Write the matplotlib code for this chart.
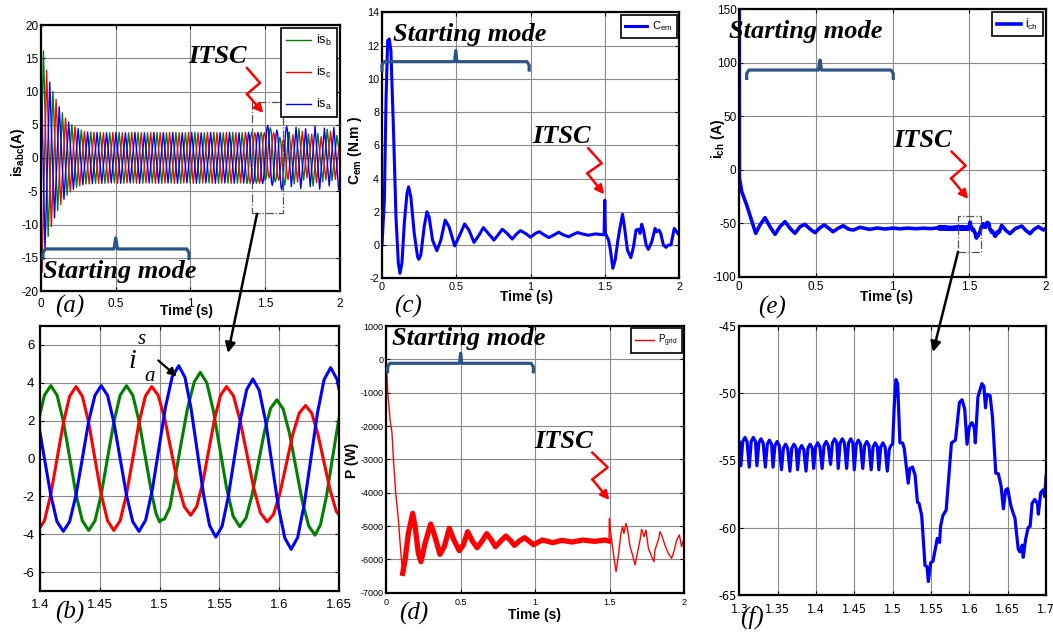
import numpy as np
import matplotlib
matplotlib.use("Agg")
import matplotlib.pyplot as plt
from matplotlib.patches import Rectangle, FancyArrowPatch

# ============================ DATA ============================
# stator currents (time s, current A) - extrema in overview, denser points in the 1.37-1.66 zoom
isb_pts = [  # green
    (0.0, -2.0), (0.0164, 16.1), (0.0481, -11.8), (0.0797, 10.0), (0.1114, -7.9), (0.1430, 6.8),
    (0.1747, -5.6), (0.2063, 5.0), (0.2380, -4.4), (0.2696, 4.2), (0.3013, -3.9), (0.3329, 3.9),
    (0.3646, -3.8), (0.3962, 3.85), (0.4279, -3.8), (0.4595, 3.8), (0.4912, -3.75), (0.5228, 3.85),
    (0.5545, -3.8), (0.5861, 3.8), (0.6178, -3.75), (0.6494, 3.85), (0.6811, -3.8), (0.7127, 3.8),
    (0.7444, -3.75), (0.7760, 3.85), (0.8077, -3.8), (0.8393, 3.8), (0.8710, -3.75), (0.9026, 3.85),
    (0.9343, -3.8), (0.9659, 3.8), (0.9976, -3.75), (1.0292, 3.85), (1.0609, -3.8), (1.0925, 3.8),
    (1.1242, -3.75), (1.1558, 3.85), (1.1875, -3.8), (1.2191, 3.8), (1.2508, -3.75), (1.2824, 3.85),
    (1.3141, -3.8), (1.3457, 3.8),
    (1.3774, -3.80), (1.3827, -3.29), (1.3879, -1.89), (1.3932, 0.03), (1.3985, 1.94), (1.4037, 3.34),
    (1.4090, 3.85), (1.4143, 3.34), (1.4196, 1.94), (1.4249, 0.03), (1.4301, -1.89), (1.4354, -3.29),
    (1.4407, -3.80), (1.4460, -3.29), (1.4512, -1.89), (1.4565, 0.03), (1.4618, 1.94), (1.4670, 3.34),
    (1.4723, 3.85), (1.4776, 3.34), (1.4829, 1.94), (1.4882, 0.03), (1.4935, -1.89), (1.4970, -2.90),
    (1.5000, -3.35), (1.5015, -3.25), (1.5040, -3.20), (1.5085, -2.60), (1.5130, -1.00), (1.5180, 0.80),
    (1.5235, 2.70), (1.5290, 4.05), (1.5340, 4.55), (1.5395, 4.00), (1.5450, 2.51), (1.5505, 0.48),
    (1.5560, -1.56), (1.5615, -3.05), (1.5670, -3.60), (1.5722, -3.15), (1.5773, -1.93), (1.5825, -0.25),
    (1.5877, 1.43), (1.5928, 2.65), (1.5980, 3.10), (1.6033, 2.62), (1.6087, 1.31), (1.6140, -0.48),
    (1.6193, -2.26), (1.6247, -3.57), (1.6300, -4.05), (1.6345, -3.50), (1.6395, -2.00), (1.6445, 0.00),
    (1.6495, 1.95), (1.6545, 3.35), (1.6600, 3.90),
    (1.694, -3.9), (1.725, 4.4), (1.757, -3.3), (1.789, 3.6), (1.820, -4.2), (1.852, 3.7),
    (1.884, -3.6), (1.915, 4.3), (1.947, -3.4), (1.979, 3.4), (2.0, 0.0)]

isc_pts = [  # red
    (0.0, -14.0), (0.0058, -17.2), (0.0375, 13.2), (0.0691, -10.3), (0.1008, 8.8), (0.1324, -7.0),
    (0.1641, 6.0), (0.1957, -5.1), (0.2274, 4.7), (0.2590, -4.2), (0.2907, 4.0), (0.3223, -3.9),
    (0.3540, 3.85), (0.3856, -3.8), (0.4173, 3.8), (0.4489, -3.75), (0.4806, 3.85), (0.5122, -3.8),
    (0.5439, 3.8), (0.5755, -3.75), (0.6072, 3.85), (0.6388, -3.8), (0.6705, 3.8), (0.7021, -3.75),
    (0.7338, 3.85), (0.7654, -3.8), (0.7971, 3.8), (0.8287, -3.75), (0.8604, 3.85), (0.8920, -3.8),
    (0.9237, 3.8), (0.9553, -3.75), (0.9870, 3.85), (1.0186, -3.8), (1.0503, 3.8), (1.0819, -3.75),
    (1.1136, 3.85), (1.1452, -3.8), (1.1769, 3.8), (1.2085, -3.75), (1.2402, 3.85), (1.2718, -3.8),
    (1.3035, 3.8), (1.3351, -3.75),
    (1.3668, 3.8), (1.3721, 3.29), (1.3773, 1.9), (1.3826, 0.0), (1.3879, -1.9), (1.3931, -3.29),
    (1.3984, -3.8), (1.4037, -3.29), (1.4090, -1.9), (1.4143, 0.0), (1.4196, 1.9), (1.4248, 3.29),
    (1.4301, 3.8), (1.4354, 3.29), (1.4407, 1.9), (1.4459, 0.0), (1.4512, -1.9), (1.4565, -3.29),
    (1.4617, -3.8), (1.4670, -3.29), (1.4723, -1.9), (1.4776, 0.0), (1.4828, 1.9), (1.4881, 3.29),
    (1.4934, 3.8), (1.4988, 3.34), (1.5043, 2.1), (1.5097, 0.4), (1.5151, -1.3), (1.5206, -2.54),
    (1.5260, -3.0), (1.5310, -2.54), (1.5360, -1.3), (1.5410, 0.4), (1.5460, 2.1), (1.5510, 3.34),
    (1.5560, 3.8), (1.5617, 3.32), (1.5673, 2.01), (1.5730, 0.23), (1.5787, -1.56), (1.5843, -2.87),
    (1.5900, -3.35), (1.5953, -2.94), (1.6007, -1.81), (1.6060, -0.28), (1.6113, 1.26), (1.6167, 2.39),
    (1.6220, 2.8), (1.6272, 2.4), (1.6323, 1.3), (1.6375, -0.2), (1.6427, -1.7), (1.6478, -2.8),
    (1.6530, -3.2),
    (1.685, 3.5), (1.716, -3.6), (1.748, 4.0), (1.779, -3.0), (1.811, 3.6), (1.843, -3.7),
    (1.874, 3.2), (1.906, -3.3), (1.937, 4.0), (1.969, -3.2), (2.0, 3.0)]

isa_pts = [  # blue
    (0.0, 14.5), (0.0269, -13.8), (0.0586, 11.4), (0.0902, -9.0), (0.1219, 7.7), (0.1535, -6.2),
    (0.1852, 5.4), (0.2168, -4.7), (0.2485, 4.4), (0.2801, -4.0), (0.3118, 3.9), (0.3434, -3.85),
    (0.3751, 3.85), (0.4067, -3.8), (0.4384, 3.8), (0.4700, -3.75), (0.5017, 3.85), (0.5333, -3.8),
    (0.5650, 3.8), (0.5966, -3.75), (0.6283, 3.85), (0.6599, -3.8), (0.6916, 3.8), (0.7232, -3.75),
    (0.7549, 3.85), (0.7865, -3.8), (0.8182, 3.8), (0.8498, -3.75), (0.8815, 3.85), (0.9131, -3.8),
    (0.9448, 3.8), (0.9764, -3.75), (1.0081, 3.85), (1.0397, -3.8), (1.0714, 3.8), (1.1030, -3.75),
    (1.1347, 3.85), (1.1663, -3.8), (1.1980, 3.8), (1.2296, -3.75), (1.2613, 3.85), (1.2929, -3.8),
    (1.3246, 3.8), (1.3562, -3.75),
    (1.3879, 3.85), (1.3932, 3.33), (1.3985, 1.93), (1.4037, 0.0), (1.4090, -1.93), (1.4142, -3.33),
    (1.4195, -3.85), (1.4248, -3.33), (1.4301, -1.93), (1.4354, 0.0), (1.4406, 1.93), (1.4459, 3.33),
    (1.4512, 3.85), (1.4565, 3.33), (1.4617, 1.93), (1.4670, 0.0), (1.4723, -1.93), (1.4775, -3.33),
    (1.4828, -3.85), (1.4883, -3.26), (1.4939, -1.66), (1.4994, 0.53), (1.5049, 2.71), (1.5105, 4.31),
    (1.5160, 4.9), (1.5212, 4.29), (1.5263, 2.64), (1.5315, 0.38), (1.5367, -1.89), (1.5418, -3.54),
    (1.5470, -4.15), (1.5522, -3.59), (1.5573, -2.06), (1.5625, 0.03), (1.5677, 2.11), (1.5728, 3.64),
    (1.5780, 4.2), (1.5833, 3.6), (1.5887, 1.95), (1.5940, -0.3), (1.5993, -2.55), (1.6047, -4.2),
    (1.6100, -4.8), (1.6155, -4.16), (1.6210, -2.4), (1.6265, 0.0), (1.6320, 2.4), (1.6375, 4.16),
    (1.6430, 4.8), (1.6483, 4.19), (1.6537, 2.53), (1.6590, 0.25),
    (1.675, -4.3), (1.706, 4.6), (1.738, -4.6), (1.770, 4.4), (1.801, -4.3), (1.833, 4.8),
    (1.864, -4.7), (1.896, 4.5), (1.928, -4.2), (1.959, 4.6), (1.991, -4.8), (2.0, -4.0)]

# electromagnetic torque (time s, N.m)
cem_pts = [
    (0.0, 0.0), (0.016, 2.7), (0.027, 8.7), (0.038, 12.3), (0.049, 12.4), (0.060, 11.7), (0.078, 6.7),
    (0.094, 1.7), (0.110, -1.1), (0.121, -1.7), (0.134, -1.1), (0.150, 1.3), (0.168, 3.1), (0.179, 3.5),
    (0.194, 2.9), (0.217, 0.7), (0.239, -0.7), (0.248, -0.86), (0.261, -0.6), (0.284, 1.1), (0.302, 2.0),
    (0.317, 1.7), (0.340, 0.3), (0.369, -0.34), (0.396, 0.3), (0.425, 1.5), (0.451, 1.1), (0.489, -0.05),
    (0.518, 0.5), (0.556, 1.27), (0.585, 0.9), (0.619, 0.16), (0.653, 0.6), (0.682, 1.05), (0.715, 0.7),
    (0.753, 0.3), (0.780, 0.6), (0.809, 0.95), (0.842, 0.7), (0.876, 0.36), (0.909, 0.7), (0.932, 0.87),
    (0.965, 0.7), (0.999, 0.47), (1.032, 0.7), (1.059, 0.8), (1.093, 0.6), (1.122, 0.45), (1.155, 0.6),
    (1.189, 0.77), (1.222, 0.6), (1.256, 0.5), (1.289, 0.65), (1.316, 0.75), (1.356, 0.65), (1.390, 0.59),
    (1.435, 0.67), (1.479, 0.63), (1.494, 0.62), (1.4985, 2.7), (1.503, 0.7), (1.524, 0.3), (1.535, -0.2),
    (1.553, -1.4), (1.569, -0.9), (1.587, 0.3), (1.602, 1.1), (1.618, 1.85), (1.631, 1.1), (1.651, -0.3),
    (1.674, -0.76), (1.692, -0.1), (1.709, 0.9), (1.725, 0.95), (1.736, 0.7), (1.747, 1.25), (1.759, 0.9),
    (1.777, 0.0), (1.792, -0.26), (1.815, 0.2), (1.837, 1.0), (1.848, 0.8), (1.864, 0.9), (1.875, 0.7),
    (1.893, 0.0), (1.911, -0.14), (1.926, 0.0), (1.944, 0.0), (1.966, 1.0), (1.982, 0.8), (2.0, 0.6)]

# grid power (time s, W)
pgrid_pts = [
    (0.0, 430), (0.003, -200), (0.012, -1000), (0.027, -1800), (0.040, -2200), (0.050, -3000),
    (0.065, -4000), (0.083, -4800), (0.098, -5700), (0.112, -6420), (0.128, -6020), (0.150, -5220),
    (0.179, -4620), (0.195, -5000), (0.217, -5820), (0.235, -6070), (0.262, -5520), (0.300, -4940),
    (0.322, -5220), (0.362, -5850), (0.391, -5620), (0.425, -5070), (0.456, -5420), (0.492, -5740),
    (0.519, -5570), (0.548, -5170), (0.580, -5450), (0.612, -5650), (0.645, -5450), (0.676, -5230),
    (0.705, -5400), (0.735, -5620), (0.770, -5450), (0.805, -5300), (0.835, -5430), (0.862, -5580),
    (0.895, -5450), (0.930, -5350), (0.960, -5450), (0.990, -5560), (1.050, -5420), (1.120, -5500),
    (1.180, -5430), (1.250, -5480), (1.320, -5420), (1.400, -5460), (1.470, -5420), (1.497, -5450),
    (1.499, -4770), (1.508, -5220), (1.526, -5820), (1.544, -6370), (1.559, -5920), (1.577, -5220),
    (1.588, -5020), (1.597, -5220), (1.611, -4920), (1.622, -5120), (1.638, -5620), (1.655, -5870),
    (1.671, -6170), (1.687, -5820), (1.705, -5420), (1.716, -5100), (1.732, -5320), (1.745, -5120),
    (1.761, -5670), (1.783, -5920), (1.799, -6070), (1.805, -5720), (1.828, -5420), (1.839, -5170),
    (1.850, -5270), (1.872, -5570), (1.895, -5820), (1.917, -5970), (1.935, -5720), (1.951, -5420),
    (1.969, -5270), (1.984, -5620), (1.996, -5420), (2.0, -5370)]

# load current (time s, A)
ich_pts = [
    (0.0, 150), (0.001, -8), (0.016, -20.6), (0.048, -33), (0.076, -45.5), (0.107, -59.5),
    (0.135, -51.7), (0.168, -44.9), (0.200, -53.3), (0.233, -60.4), (0.265, -53.3), (0.298, -48.6),
    (0.331, -54.8), (0.363, -59.5), (0.396, -53.3), (0.428, -51.1), (0.461, -55.5), (0.494, -58.9),
    (0.526, -54.3), (0.554, -51.7), (0.590, -55.5), (0.611, -58.0), (0.644, -54.8), (0.678, -52.4),
    (0.711, -55.5), (0.743, -56.4), (0.787, -53.9), (0.850, -55.8), (0.900, -54.5), (0.950, -55.5),
    (1.000, -54.6), (1.050, -55.3), (1.100, -54.6), (1.150, -55.2), (1.200, -54.7), (1.250, -55.1),
    (1.295, -54.4), (1.300, -53.6),
    (1.302, -55.4), (1.3045, -53.6), (1.3073, -53.3), (1.3101, -53.6),
    (1.313, -55.5), (1.3155, -53.6), (1.3183, -53.3), (1.3211, -53.6),
    (1.323, -55.4), (1.3255, -53.7), (1.3283, -53.4), (1.3311, -53.7),
    (1.334, -55.5), (1.3365, -53.8), (1.3393, -53.5), (1.3421, -53.8),
    (1.344, -55.5), (1.3465, -53.9), (1.3493, -53.6), (1.3521, -53.9),
    (1.355, -55.7), (1.3575, -54.1), (1.3603, -53.8), (1.3631, -54.1),
    (1.366, -55.8), (1.3685, -54.1), (1.3713, -53.8), (1.3741, -54.1),
    (1.376, -55.7), (1.3785, -54.2), (1.3813, -53.9), (1.3841, -54.2),
    (1.387, -55.8), (1.3895, -54.1), (1.3923, -53.8), (1.3951, -54.1),
    (1.397, -55.6), (1.3995, -54.0), (1.4023, -53.7), (1.4051, -54.0),
    (1.408, -55.6), (1.4105, -53.9), (1.4133, -53.6), (1.4161, -53.9),
    (1.419, -55.3), (1.4215, -53.7), (1.4243, -53.4), (1.4271, -53.7),
    (1.429, -55.6), (1.4315, -53.7), (1.4343, -53.4), (1.4371, -53.7),
    (1.440, -55.6), (1.4425, -53.7), (1.4453, -53.4), (1.4481, -53.7),
    (1.450, -55.7), (1.4525, -53.8), (1.4553, -53.5), (1.4581, -53.8),
    (1.461, -55.6), (1.4635, -53.9), (1.4663, -53.6), (1.4691, -53.9),
    (1.472, -55.7), (1.4745, -54.0), (1.4773, -53.7), (1.4801, -54.0),
    (1.482, -55.7), (1.4845, -54.0), (1.4873, -53.7), (1.4901, -54.0),
    (1.493, -55.8), (1.4955, -54.2), (1.4978, -53.9), (1.5000, -53.8),
    (1.5022, -50.8), (1.5043, -49.0), (1.5065, -49.3), (1.5095, -53.7), (1.5129, -53.7), (1.5151, -54.1),
    (1.5203, -56.7), (1.5224, -55.6), (1.5259, -55.5), (1.5293, -56.1), (1.5323, -58.1), (1.5345, -58.2),
    (1.5379, -59.1), (1.5422, -62.8), (1.5448, -62.9), (1.5466, -64.0), (1.5496, -62.6), (1.5526, -62.5),
    (1.5582, -60.8), (1.5612, -61.1), (1.5625, -59.9), (1.5655, -59.1), (1.5698, -58.7), (1.5767, -53.7),
    (1.5819, -53.5), (1.5871, -50.7), (1.5905, -50.5), (1.5940, -51.2), (1.5970, -53.8), (1.6000, -52.5),
    (1.6034, -52.2), (1.6065, -52.6), (1.6078, -53.7), (1.6112, -50.3), (1.6164, -49.3), (1.6190, -49.5),
    (1.6211, -51.1), (1.6228, -50.1), (1.6271, -50.2), (1.6302, -51.8), (1.6345, -55.95), (1.6379, -56.0),
    (1.6414, -56.9), (1.6444, -58.6), (1.6474, -57.2), (1.6500, -57.1), (1.6543, -58.4), (1.6565, -58.8),
    (1.6595, -59.3), (1.6638, -61.6), (1.6660, -61.8), (1.6690, -61.3), (1.6703, -62.2), (1.6733, -60.9),
    (1.6767, -60.0), (1.6793, -59.9), (1.6819, -58.2), (1.6853, -57.9), (1.6888, -58.2), (1.6900, -59.0),
    (1.6931, -57.4), (1.6961, -57.2), (1.6983, -57.7), (1.7000, -56.2),
    (1.711, -52.0), (1.740, -57.0), (1.765, -59.8), (1.800, -55.0), (1.842, -52.7), (1.870, -57.0),
    (1.896, -59.8), (1.920, -56.0), (1.950, -53.3), (1.983, -56.4), (2.0, -55.0)]

# ticks
time_ticks = [0, 0.5, 1, 1.5, 2]
time_labels = ['0', '0.5', '1', '1.5', '2']
is_ticks = [-20, -15, -10, -5, 0, 5, 10, 15, 20]
zoomb_ticks = [1.4, 1.45, 1.5, 1.55, 1.6, 1.65]
zoomb_labels = ['1.4', '1.45', '1.5', '1.55', '1.6', '1.65']
zoomb_yticks = [-6, -4, -2, 0, 2, 4, 6]
cem_ticks = [-2, 0, 2, 4, 6, 8, 10, 12, 14]
p_ticks = [-7000, -6000, -5000, -4000, -3000, -2000, -1000, 0, 1000]
ich_ticks = [-100, -50, 0, 50, 100, 150]
zoomf_ticks = [1.3, 1.35, 1.4, 1.45, 1.5, 1.55, 1.6, 1.65, 1.7]
zoomf_labels = ['1.3', '1.35', '1.4', '1.45', '1.5', '1.55', '1.6', '1.65', '1.7']
zoomf_yticks = [-65, -60, -55, -50, -45]

# ============================ STYLE ============================
plt.rcParams['font.family'] = ['Liberation Sans', 'DejaVu Sans']
plt.rcParams['mathtext.fontset'] = 'custom'
plt.rcParams['mathtext.rm'] = 'Liberation Sans'
plt.rcParams['mathtext.it'] = 'Liberation Sans:italic'
plt.rcParams['mathtext.bf'] = 'Liberation Sans:bold'
plt.rcParams['mathtext.default'] = 'regular'

SERIF = ['Liberation Serif', 'DejaVu Serif']
BRACE = '#2C5484'
GREEN, RED, BLUE = '#008000', '#FF0000', '#0000FF'

W, H = 1053, 633
fig = plt.figure(figsize=(W / 100, H / 100), dpi=100)
fig.patch.set_facecolor('white')


def P(x, y):
    return (x / W, 1 - y / H)


def add_ax(x0, y0, x1, y1):
    return fig.add_axes([x0 / W, 1 - y1 / H, (x1 - x0) / W, (y1 - y0) / H])


def style(ax, xlim, ylim, xt, xl, yt, fs, xpad=4, ypad=2):
    ax.set_xlim(xlim)
    ax.set_ylim(ylim)
    ax.set_xticks(xt, xl)
    ax.set_yticks(yt, [str(v) for v in yt])
    ax.grid(True, color='#8a8a8a', lw=0.8)
    ax.set_axisbelow(True)
    ax.tick_params(direction='in', top=True, right=True, length=3, width=0.8, labelsize=fs)
    ax.tick_params(axis='x', pad=xpad)
    ax.tick_params(axis='y', pad=ypad)
    for s in ax.spines.values():
        s.set_linewidth(1.6)


def xy(pts):
    a = np.array(pts, dtype=float)
    return a[:, 0], a[:, 1]


def brace(ax, x0, x1, xm, yh, yend, ytip, dx, dn):
    yb = yh + (yend - yh) * 0.35
    bx = [x0, x0, x0 + dx, xm - dn, xm, xm + dn, x1 - dx, x1, x1]
    by = [yend, yb, yh, yh, ytip, yh, yh, yb, yend]
    ax.plot(bx, by, color=BRACE, lw=2.3, solid_joinstyle='round', solid_capstyle='butt', clip_on=False, zorder=6)


def zigzag(ax, pts):
    ax.plot([p[0] for p in pts[:3]], [p[1] for p in pts[:3]], color='red', lw=1.8, clip_on=False, zorder=7)
    ax.add_patch(FancyArrowPatch(pts[2], pts[3], arrowstyle='-|>', mutation_scale=13, color='red',
                                 lw=1.8, shrinkA=0, shrinkB=0, clip_on=False, zorder=7))


def big_text(ax, x, y, s, ha='left'):
    ax.text(x, y, s, ha=ha, va='baseline', family=SERIF, style='italic', weight='bold', fontsize=19,
            zorder=8, clip_on=False)


def legend(ax, fs, ls):
    lg = ax.legend(loc='upper right', fontsize=fs, frameon=True, fancybox=False, framealpha=1,
                   edgecolor='black', borderaxespad=0.25, labelspacing=ls, handlelength=2.0,
                   handletextpad=0.4, borderpad=0.4)
    lg.get_frame().set_linewidth(1.2)
    return lg


tg, vg = xy(isb_pts)
tr, vr = xy(isc_pts)
tb, vb = xy(isa_pts)
tc, vc = xy(cem_pts)
tp, vp = xy(pgrid_pts)
ti, vi = xy(ich_pts)

# ---------------- (a) ----------------
axa = add_ax(41, 25, 340, 291)
axa.plot(tg, vg, color=GREEN, lw=1.0, label='is$_b$')
axa.plot(tr, vr, color=RED, lw=1.0, label='is$_c$')
axa.plot(tb, vb, color=BLUE, lw=1.0, label='is$_a$')
style(axa, (0, 2), (-20, 20), time_ticks, time_labels, is_ticks, 8.5, xpad=5, ypad=2)
legend(axa, 9, 1.35)
axa.add_patch(Rectangle((1.409, -8.32), 0.212, 16.79, fill=False, ls='-.', lw=0.9, ec='#555555', zorder=5))
big_text(axa, 1.181, 14.3, 'ITSC', ha='center')
zigzag(axa, [(1.378, 13.53), (1.465, 11.28), (1.378, 9.62), (1.487, 6.77)])
brace(axa, 0.013, 0.99, 0.5, -13.68, -15.34, -12.03, 0.015, 0.012)
big_text(axa, 0.013, -18.05, 'Starting mode')

# ---------------- (b) ----------------
axb = add_ax(40, 326, 339, 591)
axb.plot(tg, vg, color=GREEN, lw=2.2)
axb.plot(tr, vr, color=RED, lw=2.2)
axb.plot(tb, vb, color=BLUE, lw=2.2)
style(axb, (1.4, 1.65), (-7, 7), zoomb_ticks, zoomb_labels, zoomb_yticks, 9.5, xpad=6, ypad=4)
axb.text(1.4773, 4.76, 'i', family=SERIF, style='italic', fontsize=20, ha='center', va='baseline')
axb.text(1.4849, 6.07, 's', family=SERIF, style='italic', fontsize=15, ha='center', va='baseline')
axb.text(1.4916, 4.12, 'a', family=SERIF, style='italic', fontsize=15, ha='center', va='baseline')
axb.add_patch(FancyArrowPatch((1.4989, 5.18), (1.5143, 4.34), arrowstyle='-|>', mutation_scale=12,
                              color='black', lw=1.6, shrinkA=0, shrinkB=0, zorder=7))

# ---------------- (c) ----------------
axc = add_ax(382, 12.3, 679.3, 278.3)
axc.plot(tc, vc, color=BLUE, lw=2.2, label='C$_{em}$')
style(axc, (0, 2), (-2, 14), time_ticks, time_labels, cem_ticks, 7.8, xpad=3, ypad=2)
legend(axc, 8, 0.5)
big_text(axc, 1.209, 6.14, 'ITSC', ha='center')
zigzag(axc, [(1.388, 5.82), (1.478, 4.92), (1.381, 4.32), (1.495, 3.05)])
brace(axc, 0.0, 0.99, 0.496, 11.03, 10.43, 11.69, 0.015, 0.008)
big_text(axc, 0.074, 12.27, 'Starting mode')

# ---------------- (d) ----------------
axd = add_ax(386, 326, 684, 592.7)
axd.plot(tp, vp, color=RED, lw=1.0, label='P$_{grid}$')
band = (tp >= 0.11) & (tp <= 1.497)
axd.plot(tp[band], vp[band], color=RED, lw=3.8)
style(axd, (0, 2), (-7000, 1000), time_ticks, time_labels, p_ticks, 6.5, xpad=4, ypad=2)
legend(axd, 7, 0.5)
big_text(axd, 1.193, -2660, 'ITSC', ha='center')
zigzag(axd, [(1.385, -2800), (1.488, -3240), (1.385, -3600), (1.499, -4220)])
brace(axd, 0.011, 0.989, 0.501, -119, -419, 181, 0.015, 0.008)
big_text(axd, 0.038, 430, 'Starting mode')

# ---------------- (e) ----------------
axe = add_ax(739.3, 9, 1046, 276.7)
axe.plot(ti, vi, color=BLUE, lw=2.6, label='i$_{ch}$')
style(axe, (0, 2), (-100, 150), time_ticks, time_labels, ich_ticks, 8.5, xpad=3, ypad=2)
legend(axe, 8.5, 0.5)
axe.add_patch(Rectangle((1.424, -77.2), 0.15, 34.2, fill=False, ls='-.', lw=0.9, ec='#555555', zorder=5))
big_text(axe, 1.195, 21.1, 'ITSC', ha='center')
zigzag(axe, [(1.385, 16.7), (1.476, 3.7), (1.381, -8.1), (1.493, -27.4)])
brace(axe, 0.048, 1.004, 0.526, 93.0, 83.7, 102.4, 0.015, 0.01)
big_text(axe, -0.067, 122.9, 'Starting mode')

# ---------------- (f) ----------------
axf = add_ax(739.3, 325.7, 1046, 595)
axf.plot(ti, vi, color=BLUE, lw=2.3)
style(axf, (1.3, 1.7), (-65, -45), zoomf_ticks, zoomf_labels, zoomf_yticks, 9, xpad=6, ypad=2)
for lab in axf.get_xticklabels() + axf.get_yticklabels():
    lab.set_family(['Liberation Sans Narrow', 'DejaVu Sans'])
    lab.set_fontstretch('condensed')

# ---------------- axis labels ----------------
lab_kw = dict(ha='center', va='center', fontsize=10, weight='bold')
fig.text(*P(18, 152), r'is$_{\mathbf{abc}}$(A)', rotation=90, **lab_kw)
fig.text(*P(186, 311), 'Time (s)', **lab_kw)
fig.text(*P(355, 150), r'C$_{\mathbf{em}}$ (N.m )', rotation=90, **lab_kw)
fig.text(*P(526, 297), 'Time (s)', **lab_kw)
fig.text(*P(718, 139), r'i$_{\mathbf{ch}}$ (A)', rotation=90, **lab_kw)
fig.text(*P(886, 297), 'Time (s)', **lab_kw)
fig.text(*P(352, 460), 'P (W)', rotation=90, **lab_kw)
fig.text(*P(534, 615), 'Time (s)', **lab_kw)

# ---------------- panel letters ----------------
for s, (x, y) in zip(['(a)', '(b)', '(c)', '(d)', '(e)', '(f)'],
                     [(70, 306), (70, 612), (408, 306), (414, 613), (772, 307), (752, 617)]):
    fig.text(*P(x, y), s, ha='center', va='center', family=SERIF, style='italic', fontsize=18)

# ---------------- connector arrows ----------------
for a, b in [((257, 214), (228, 353)), ((958, 252), (933, 352))]:
    fig.add_artist(FancyArrowPatch(P(*a), P(*b), transform=fig.transFigure, arrowstyle='-|>',
                                   mutation_scale=15, color='black', lw=1.8, shrinkA=0, shrinkB=0))

fig.savefig('out.png', dpi=100, facecolor='white')
